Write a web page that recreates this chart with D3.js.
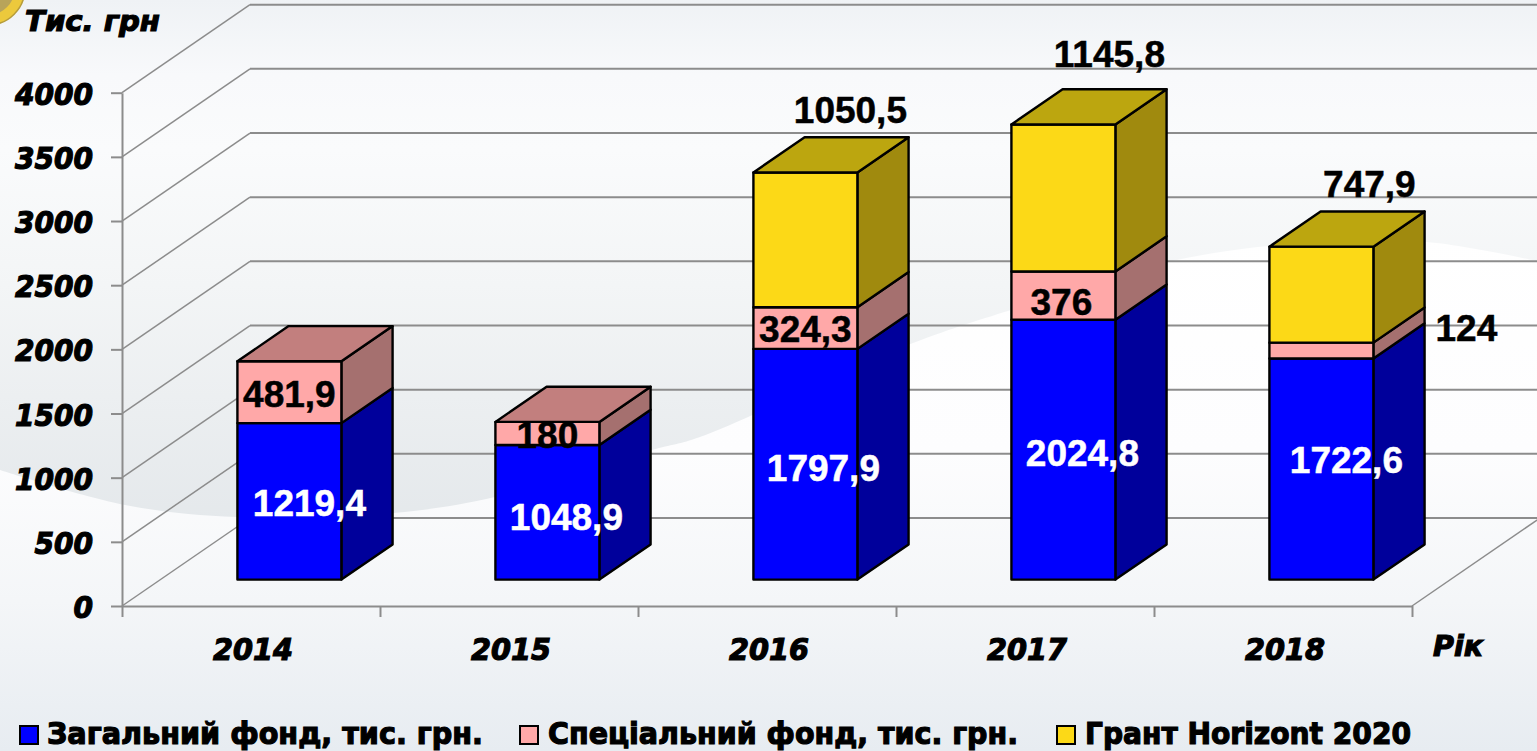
<!DOCTYPE html>
<html>
<head>
<meta charset="utf-8">
<script src="https://cdn.jsdelivr.net/npm/d3@7"></script>
<style>
  html, body { margin: 0; padding: 0; overflow: hidden; background: #fff; }
  svg { display: block; }
  .heavy { font-family: "DejaVu Sans"; font-weight: bold; fill: #000; stroke: #000; stroke-width: 1.2px; }
  .oblique { font-style: oblique; }
  .value { font-family: "Liberation Sans"; font-weight: bold; font-size: 37px; text-anchor: middle; stroke-width: 0.5px; }
</style>
</head>
<body>
<div id="chart"></div>
<script>
// chart data
const YEARS = ["2014", "2015", "2016", "2017", "2018"];
const GENERAL = [1219.4, 1048.9, 1797.9, 2024.8, 1722.6];
const SPECIAL = [481.9, 180, 324.3, 376, 124];
const GRANT = [0, 0, 1050.5, 1145.8, 747.9];
const Y_TICKS = [0, 500, 1000, 1500, 2000, 2500, 3000, 3500, 4000];
const SERIES_NAMES = ["Загальний фонд, тис. грн.", "Спеціальний фонд, тис. грн.", "Грант Horizont 2020"];

// define constant for frame and 3d look
const FRAME_WIDTH = 1537;
const FRAME_HEIGHT = 751;
const PLOT = {left: 122, right: 1412, top: 92.7, bottom: 606};
const DEPTH = {x: 128, y: -88};
const BAR_SHARE = 0.403;
const BAR_DEPTH = [0.3, 0.7];

const FRONT_COLORS = ["#0000ff", "#ffa8a8", "#fcd917"];
const SIDE_COLORS = ["#00009b", "#a5706f", "#a08a0e"];
const TOP_COLORS = ["#000fb0", "#c27f7e", "#bca60f"];
const LABEL_COLORS = ["#fff", "#000", "#000"];

// labels were moved by hand in the original, [series][year] = [dx, dy]
const LABEL_NUDGE = [
  [[20, 1], [19, 4], [18, 3], [19, 3], [25, -9]],
  [[0, 1], [0, 1], [0, 1], [-2, 6], [145, -23]],
  [[0, 0], [0, 0], [45, -130], [46, -144], [48, -111]]
];

// legend swatch x, text x and text width
const LEGEND = [
  {swatch: 20, text: 47, width: 436},
  {swatch: 520, text: 548, width: 470},
  {swatch: 1057, text: 1085, width: 326}
];

const FRAME = d3.select("#chart")
  .append("svg")
  .attr("width", FRAME_WIDTH)
  .attr("height", FRAME_HEIGHT);

// scales
const xBand = d3.scaleBand().domain(YEARS).range([PLOT.left, PLOT.right]);
const xEdge = d3.scaleLinear().domain([0, YEARS.length]).range([PLOT.left, PLOT.right]);
const yScale = d3.scaleLinear().domain([0, 4000]).range([PLOT.bottom, PLOT.top]);
const depthX = d3.scaleLinear().domain([0, 1]).range([0, DEPTH.x]);
const depthY = d3.scaleLinear().domain([0, 1]).range([0, DEPTH.y]);

// background
const defs = FRAME.append("defs");
function addGradient(id, stops) {
  const g = defs.append("linearGradient").attr("id", id)
    .attr("gradientUnits", "userSpaceOnUse")
    .attr("x1", 0).attr("y1", 0).attr("x2", 0).attr("y2", FRAME_HEIGHT);
  stops.forEach((s) => g.append("stop").attr("offset", s[0]).attr("stop-color", s[1]));
}
addGradient("lower", [[0.3, "#ffffff"], [0.6, "#fdfdfe"], [0.8, "#f4f6f8"], [1, "#e7ecf1"]]);
addGradient("upper", [[0, "#eff2f5"], [0.1, "#f8f9fb"], [0.2, "#fafbfc"], [0.38, "#f3f5f6"], [0.7, "#e4e8eb"]]);

FRAME.append("rect").attr("width", FRAME_WIDTH).attr("height", FRAME_HEIGHT).attr("fill", "url(#lower)");

const swoosh = [[0, 470], [125, 505], [237, 517], [393, 513], [495, 497], [652, 450], [700, 437],
  [913, 343], [1020, 307], [1167, 262], [1300, 243], [1427, 242], [1537, 261]];
const swooshLine = d3.line().curve(d3.curveCatmullRom);
FRAME.append("path")
  .attr("d", swooshLine(swoosh) + "L1537,0L0,0Z")
  .attr("fill", "url(#upper)");

// badge corner in the top left
FRAME.append("circle").attr("cx", -12).attr("cy", -12).attr("r", 37)
  .attr("fill", "#ecc93c").attr("stroke", "#b59c3a").attr("stroke-width", 1.5);
FRAME.append("circle").attr("cx", -12).attr("cy", -12).attr("r", 27)
  .attr("fill", "#b8a45a");

// back wall and side wall grid lines
const grid = FRAME.append("g").attr("fill", "none").attr("stroke", "#8c8c8c");
grid.selectAll(".back")
  .data(Y_TICKS)
  .enter()
  .append("line")
    .attr("x1", PLOT.left + depthX(1))
    .attr("x2", PLOT.right + depthX(1))
    .attr("y1", (d) => yScale(d) + depthY(1))
    .attr("y2", (d) => yScale(d) + depthY(1))
    .attr("stroke-width", 2);
grid.selectAll(".side")
  .data(Y_TICKS)
  .enter()
  .append("line")
    .attr("x1", PLOT.left)
    .attr("x2", PLOT.left + depthX(1))
    .attr("y1", (d) => yScale(d))
    .attr("y2", (d) => yScale(d) + depthY(1))
    .attr("stroke-width", 1.5);
grid.append("line")
  .attr("x1", PLOT.right).attr("x2", PLOT.right + depthX(1))
  .attr("y1", yScale(0)).attr("y2", yScale(0) + depthY(1))
  .attr("stroke-width", 1.5);

// axes
const yAxis = FRAME.append("g")
  .attr("transform", "translate(" + PLOT.left + ",0)")
  .call(d3.axisLeft(yScale).tickValues(Y_TICKS).tickSize(11).tickPadding(18).tickSizeOuter(0).tickFormat(d3.format("d")));
yAxis.selectAll("text")
  .attr("class", "heavy oblique")
  .attr("font-size", 30)
  .attr("dy", 11.5)
  .attr("textLength", (d) => String(d).length * 19.5)
  .attr("lengthAdjust", "spacingAndGlyphs");

const edgeAxis = FRAME.append("g")
  .attr("transform", "translate(0," + PLOT.bottom + ")")
  .call(d3.axisBottom(xEdge).ticks(YEARS.length).tickSize(11).tickSizeOuter(0).tickFormat(""));

const xAxis = FRAME.append("g")
  .attr("transform", "translate(0," + PLOT.bottom + ")")
  .call(d3.axisBottom(xBand).tickSize(0));
xAxis.select(".domain").remove();
xAxis.selectAll("text")
  .attr("class", "heavy oblique")
  .attr("font-size", 30)
  .attr("dy", 0)
  .attr("y", 54)
  .attr("x", 2)
  .attr("textLength", 80)
  .attr("lengthAdjust", "spacingAndGlyphs");

[yAxis, edgeAxis].forEach((a) => {
  a.selectAll(".domain, line").attr("stroke", "#8c8c8c").attr("stroke-width", 2);
});

// axis titles
FRAME.append("text").attr("class", "heavy oblique")
  .attr("x", 25).attr("y", 31)
  .attr("font-size", 28)
  .attr("textLength", 135).attr("lengthAdjust", "spacingAndGlyphs")
  .text("Тис. грн");
FRAME.append("text").attr("class", "heavy oblique")
  .attr("x", 1433).attr("y", 656)
  .attr("font-size", 28)
  .attr("textLength", 50).attr("lengthAdjust", "spacingAndGlyphs")
  .text("Рік");

// stacked bars
const rows = YEARS.map((year, i) => ({year: year, s0: GENERAL[i], s1: SPECIAL[i], s2: GRANT[i]}));
const stacked = d3.stack().keys(["s0", "s1", "s2"])(rows);

const barWidth = xBand.bandwidth() * BAR_SHARE;
const frontX = (year) => xBand(year) + (xBand.bandwidth() - barWidth) / 2 + depthX(BAR_DEPTH[0]);
const frontY = (v) => yScale(v) + depthY(BAR_DEPTH[0]);
const depthSpanX = depthX(BAR_DEPTH[1] - BAR_DEPTH[0]);
const depthSpanY = depthY(BAR_DEPTH[1] - BAR_DEPTH[0]);

const bars = FRAME.append("g")
  .attr("stroke", "#000")
  .attr("stroke-width", 2.4)
  .attr("stroke-linejoin", "round");

stacked.forEach((layer, s) => {
  const segs = layer.map((d) => ({year: d.data.year, y0: d[0], y1: d[1]})).filter((d) => d.y1 > d.y0);

  // side face
  bars.selectAll(".side" + s)
    .data(segs)
    .enter()
    .append("polygon")
      .attr("fill", SIDE_COLORS[s])
      .attr("points", (d) => {
        const x = frontX(d.year) + barWidth;
        return [
          [x, frontY(d.y0)],
          [x + depthSpanX, frontY(d.y0) + depthSpanY],
          [x + depthSpanX, frontY(d.y1) + depthSpanY],
          [x, frontY(d.y1)]
        ].join(" ");
      });

  // front face
  bars.selectAll(".front" + s)
    .data(segs)
    .enter()
    .append("rect")
      .attr("x", (d) => frontX(d.year))
      .attr("y", (d) => frontY(d.y1))
      .attr("width", barWidth)
      .attr("height", (d) => frontY(d.y0) - frontY(d.y1))
      .attr("fill", FRONT_COLORS[s]);
});

// top face only for the last non empty segment of each bar
const tops = rows.map((row) => {
  const values = [row.s0, row.s1, row.s2];
  const last = values[2] > 0 ? 2 : (values[1] > 0 ? 1 : 0);
  return {year: row.year, total: d3.sum(values), s: last};
});
bars.selectAll(".top")
  .data(tops)
  .enter()
  .append("polygon")
    .attr("fill", (d) => TOP_COLORS[d.s])
    .attr("points", (d) => {
      const x = frontX(d.year);
      const y = frontY(d.total);
      return [
        [x, y],
        [x + barWidth, y],
        [x + barWidth + depthSpanX, y + depthSpanY],
        [x + depthSpanX, y + depthSpanY]
      ].join(" ");
    });

// value labels
stacked.forEach((layer, s) => {
  const items = layer
    .map((d, i) => ({year: d.data.year, y0: d[0], y1: d[1], nudge: LABEL_NUDGE[s][i]}))
    .filter((d) => d.y1 > d.y0);
  FRAME.selectAll(".label" + s)
    .data(items)
    .enter()
    .append("text")
      .attr("class", "value")
      .attr("fill", LABEL_COLORS[s])
      .attr("stroke", LABEL_COLORS[s])
      .attr("x", (d) => frontX(d.year) + barWidth / 2 + d.nudge[0])
      .attr("y", (d) => frontY((d.y0 + d.y1) / 2) + d.nudge[1])
      .attr("dy", "0.36em")
      .text((d) => String(+(d.y1 - d.y0).toFixed(1)).replace(".", ","));
});

// legend
const legend = FRAME.selectAll(".legend")
  .data(SERIES_NAMES)
  .enter()
  .append("g");
legend.append("rect")
  .attr("x", (d, i) => LEGEND[i].swatch)
  .attr("y", 726)
  .attr("width", 18)
  .attr("height", 18)
  .attr("fill", (d, i) => FRONT_COLORS[i])
  .attr("stroke", "#000")
  .attr("stroke-width", 2);
legend.append("text")
  .attr("class", "heavy")
  .attr("x", (d, i) => LEGEND[i].text)
  .attr("y", 744)
  .attr("font-size", 30)
  .attr("textLength", (d, i) => LEGEND[i].width)
  .attr("lengthAdjust", "spacingAndGlyphs")
  .text((d) => d);
</script>
</body>
</html>
